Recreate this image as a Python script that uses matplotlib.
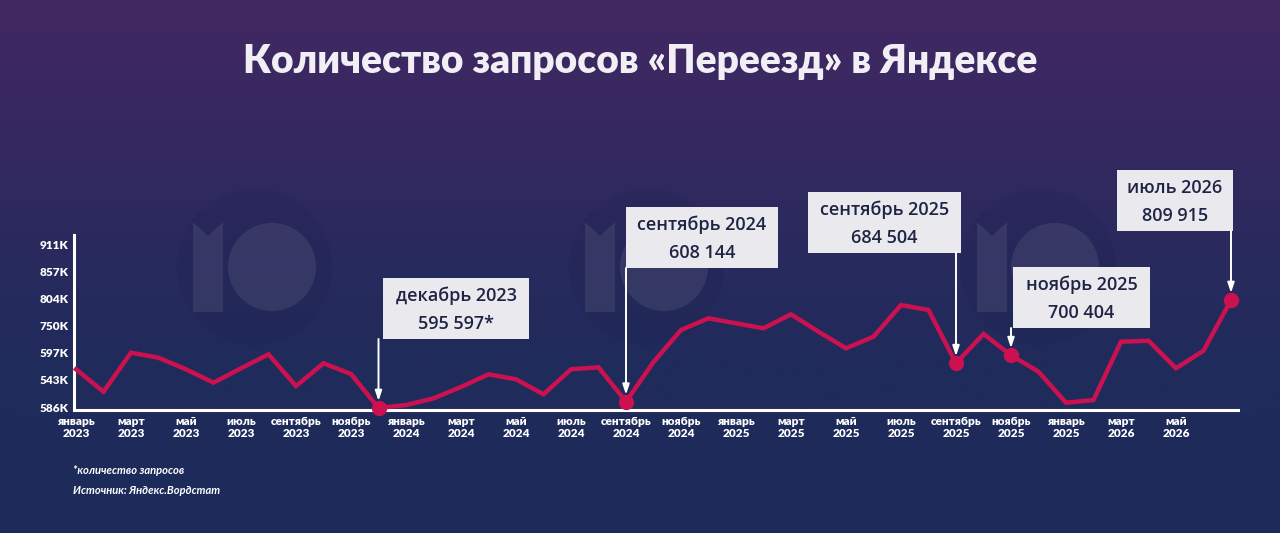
import numpy as np
import matplotlib
matplotlib.use("Agg")
import matplotlib.pyplot as plt
from matplotlib.patches import Rectangle, Circle, Polygon
from matplotlib.colors import LinearSegmentedColormap

plt.rcParams['font.family'] = ['Lato', 'DejaVu Sans']

# --- data (monthly, January 2023 .. July 2026) ---
values = [
    672400, 627900, 705300, 695400, 672400, 645800, 674400, 702100, 639200, 684300, 663100, 595597,
    601500, 614800, 637300, 662500, 652500, 622800, 672400, 676300, 608144, 686900, 750300, 773600,
    763600, 753700, 781500, 747000, 714000, 737100, 799900, 790000, 684504, 742400, 700404, 667600,
    606100, 611500, 727100, 729100, 674400, 709300, 809915,
]
month_labels = [
    'январь\n2023', 'март\n2023', 'май\n2023', 'июль\n2023', 'сентябрь\n2023', 'ноябрь\n2023',
    'январь\n2024', 'март\n2024', 'май\n2024', 'июль\n2024', 'сентябрь\n2024', 'ноябрь\n2024',
    'январь\n2025', 'март\n2025', 'май\n2025', 'июль\n2025', 'сентябрь\n2025', 'ноябрь\n2025',
    'январь\n2025', 'март\n2026', 'май\n2026',
]
y_labels = ['586K', '543K', '597K', '750K', '804K', '857K', '911K']

# highlighted points: (month index, box title, box value)
callouts = [
    (11, 'декабрь 2023', '595 597*'),
    (20, 'сентябрь 2024', '608 144'),
    (32, 'сентябрь 2025', '684 504'),
    (34, 'ноябрь 2025', '700 404'),
    (42, 'июль 2026', '809 915'),
]

title = 'Количество запросов «Переезд» в Яндексе'
note1 = '*количество запросов'
note2 = 'Источник: Яндекс.Вордстат'

# --- colours ---
LINE = '#cc1150'
BOX = '#e9e9ee'
BOX_TEXT = '#1f2444'

W, H = 1280, 533
fig = plt.figure(figsize=(W / 100, H / 100), dpi=100)

# background gradient + watermark logos
bg = fig.add_axes([0, 0, 1, 1], zorder=0)
bg.set_xlim(0, W)
bg.set_ylim(H, 0)
bg.axis('off')
cmap = LinearSegmentedColormap.from_list('bg', ['#432862', '#30295f', '#202b5b', '#1d2b5a'])
grad = np.linspace(0, 1, 256).reshape(-1, 1)
bg.imshow(grad, cmap=cmap, aspect='auto', extent=[0, W, H, 0])

for bx, cx in [(193, 272), (585, 664), (977, 1055)]:
    bg.add_patch(Circle(((bx + cx + 44) / 2, 267), 78, color='#10183a', alpha=0.09, lw=0))
    bar = Polygon([(bx, 222), (bx + 15, 236), (bx + 30, 222), (bx + 30, 312), (bx, 312)],
                  closed=True, color='white', alpha=0.08, lw=0)
    bg.add_patch(bar)
    bg.add_patch(Circle((cx, 267), 44, color='white', alpha=0.08, lw=0))

# main chart axes
px_month = 27.5
val_px = 1984.0
x0_px, y0_px, y0_val = 76, 408, 595597
ax_l, ax_r, ax_b, ax_t = 74, 1238, 410, 235
ax = fig.add_axes([ax_l / W, (H - ax_b) / H, (ax_r - ax_l) / W, (ax_b - ax_t) / H], zorder=1)
ax.patch.set_alpha(0)
ax.set_xlim((ax_l - x0_px) / px_month, (ax_r - x0_px) / px_month)
ax.set_ylim(y0_val - (ax_b - y0_px) * val_px, y0_val + (y0_px - ax_t) * val_px)

x = np.arange(len(values))
ax.plot(x, values, color=LINE, lw=3.2, solid_joinstyle='miter', clip_on=False, zorder=3)
idx = [c[0] for c in callouts]
ax.plot(idx, [values[i] for i in idx], 'o', color=LINE, ms=10, clip_on=False, zorder=4)

for s in ['top', 'right']:
    ax.spines[s].set_visible(False)
for s in ['left', 'bottom']:
    ax.spines[s].set_color('white')
    ax.spines[s].set_linewidth(2.2)

ax.set_xticks(np.arange(0, len(month_labels) * 2, 2))
ax.set_xticklabels(month_labels, fontsize=8.5, fontweight='heavy', color='white', linespacing=1.2)
ytick_vals = np.linspace(y0_val - (407 - y0_px) * val_px, y0_val + (y0_px - 244) * val_px, len(y_labels))
ax.set_yticks(ytick_vals)
ax.set_yticklabels(y_labels, fontsize=8.5, fontweight='heavy', color='white')
ax.tick_params(length=0, pad=4)

# overlay for callout boxes
ov = fig.add_axes([0, 0, 1, 1], zorder=2)
ov.set_xlim(0, W)
ov.set_ylim(H, 0)
ov.axis('off')

# box geometry in pixels: left, top, width
boxes = [(383, 278, 146), (626, 207, 152), (808, 192, 153), (1013, 267, 137), (1117, 170, 116)]
bh = 61
for (i, t1, t2), (bl, bt, bw) in zip(callouts, boxes):
    px, py = ax.transData.transform((i, values[i]))
    py = H - py
    ov.add_patch(Rectangle((bl, bt), bw, bh, facecolor=BOX, edgecolor='none'))
    ov.text(bl + bw / 2, bt + 18, t1, ha='center', va='center', fontsize=13,
            color=BOX_TEXT, family='Open Sans', fontweight='semibold')
    ov.text(bl + bw / 2, bt + 46, t2, ha='center', va='center', fontsize=13,
            color=BOX_TEXT, family='Open Sans', fontweight='semibold')
    ov.annotate('', xy=(px, py - 7), xytext=(px, bt + bh),
                arrowprops=dict(arrowstyle='-|>,head_length=0.6,head_width=0.2',
                                color='white', lw=1.4, shrinkA=0, shrinkB=0))

ov.text(W / 2, 61, title, ha='center', va='center', fontsize=28, fontweight='heavy',
        color='#f1eff5')
ov.text(73, 470, note1, ha='left', va='center', fontsize=8, style='italic',
        fontweight='bold', color='white')
ov.text(73, 490, note2, ha='left', va='center', fontsize=8, style='italic',
        fontweight='bold', color='white')

fig.savefig('out.png', dpi=100)
